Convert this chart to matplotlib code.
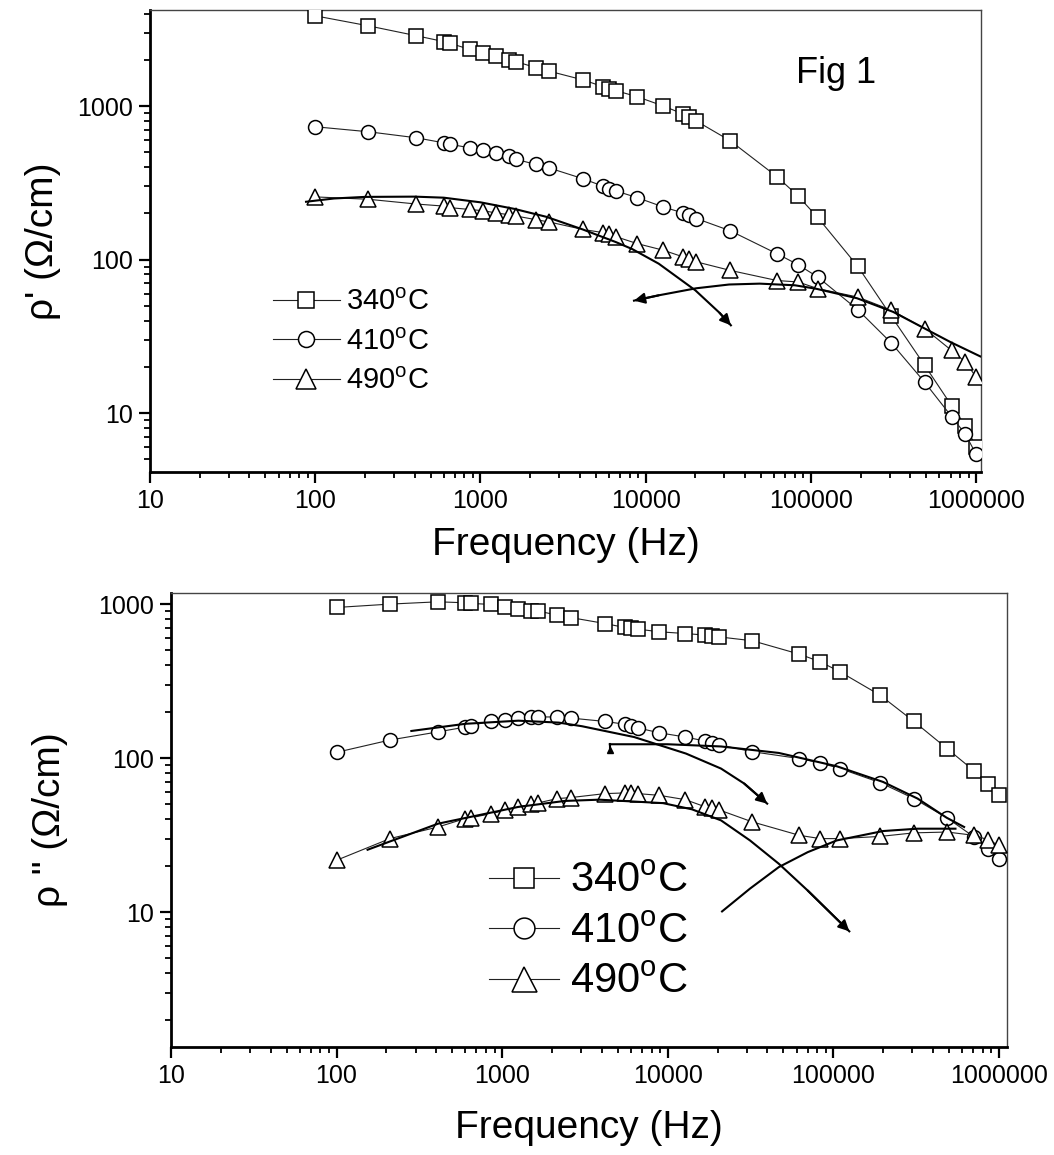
import numpy as np
import matplotlib
matplotlib.use('Agg')
import matplotlib.pyplot as plt
from matplotlib.ticker import FixedLocator, FixedFormatter, LogLocator, NullFormatter

plt.rcParams['font.family'] = ['Liberation Sans', 'DejaVu Sans']
plt.rcParams['mathtext.fontset'] = 'custom'
plt.rcParams['mathtext.rm'] = 'Liberation Sans'

# frequencies (Hz), shared by all series
freq = [100, 210, 410, 600, 650, 860, 1040, 1250, 1490, 1650, 2160, 2590, 4180,
        5500, 6000, 6600, 8900, 12800, 16900, 18400, 20300, 32500, 62500, 83500,
        110000, 192000, 307000, 488000, 710000, 860000, 1000000]

# rho' (top panel)
re_340 = [3870, 3330, 2870, 2630, 2570, 2340, 2230, 2120, 2010, 1945, 1780, 1690, 1480,
          1340, 1300, 1260, 1150, 1000, 887, 851, 798, 594, 346, 260, 188, 90.5,
          42.7, 20.5, 11.2, 8.3, 6.0]
re_410 = [733, 680, 621, 576, 564, 535, 516, 491, 472, 449, 417, 396, 336,
          301, 290, 280, 253, 220, 201, 194, 185, 154, 109, 92.7, 77, 47.2,
          28.6, 15.9, 9.5, 7.3, 5.4]
re_490 = [256, 247, 230, 223, 218, 212, 208, 201, 196, 192, 182, 176, 157,
          150, 146, 141, 127, 115, 104, 101.5, 96.6, 85, 73, 71.5, 64.7, 57,
          46.8, 35.5, 25.6, 21.5, 17.2]

# rho'' (bottom panel)
im_340 = [951, 1000, 1035, 1020, 1010, 995, 961, 928, 901, 901, 848, 818, 748,
          705, 695, 688, 661, 644, 629, 619, 613, 578, 473, 422, 363, 256,
          173, 115, 82.5, 67.6, 57.3]
im_410 = [109, 131, 148, 159, 162, 175, 176, 183, 185, 185, 185, 182, 173,
          166, 162, 157, 146, 137, 129, 126, 122, 110, 99.3, 93, 85.5, 69.3,
          54.6, 40.8, 30.7, 25.8, 22.2]
im_490 = [21.7, 30, 35.7, 40.5, 41, 43.6, 45.8, 48.2, 50.1, 51.2, 54.6, 55.4, 58.8,
          59.4, 59.4, 58.8, 57.3, 53.7, 48.2, 47.7, 46.2, 38.5, 31.5, 30, 30, 31,
          32.7, 33.1, 31.5, 29.5, 27.1]

# fitted curves
fit_top1_f = [88, 130, 200, 400, 600, 1000, 1600, 2500, 4170, 6600, 8300, 12000, 20000, 28000, 32800]
fit_top1_y = [238, 250, 256, 257, 253, 236, 214, 190, 157, 130, 117, 94, 63, 45, 37.3]
fit_top2_f = [8500, 12000, 20200, 32000, 49000, 80000, 108000, 190000, 315000, 490000, 700000, 1060000]
fit_top2_y = [54, 58.5, 65.0, 68.8, 69.7, 68, 64.5, 56, 45.6, 35.5, 29, 23.4]

fit_bot1_f = [283, 600, 1253, 2200, 3040, 6270, 12900, 21000, 29000, 39900]
fit_bot1_y = [150, 167, 175, 170, 161, 137, 107, 85.5, 68.3, 50.6]
fit_bot2_f = [4470, 10000, 21000, 46900, 105000, 200000, 323000, 484000, 617000]
fit_bot2_y = [123, 123, 119, 108, 88.5, 70, 54.6, 41, 35.7]
fit_bot3_f = [154, 410, 1253, 2390, 3860, 9370, 14000, 21000, 31400, 46900, 70100, 125000]
fit_bot3_y = [25.4, 37.5, 48.2, 52.7, 53.7, 51.0, 46.5, 39.4, 29.2, 20.6, 13.8, 7.5]
fit_bot4_f = [21300, 31400, 46900, 70100, 105000, 200000, 323000, 547000]
fit_bot4_y = [10.1, 14.2, 19.6, 24.5, 29.2, 33.6, 34.8, 34.8]

x_ticks = [10, 100, 1000, 10000, 100000, 1000000]
x_tick_labels = ['10', '100', '1000', '10000', '100000', '1000000']
y_ticks = [10, 100, 1000]
y_tick_labels = ['10', '100', '1000']
labels = ['340$^{\\rm o}$C', '410$^{\\rm o}$C', '490$^{\\rm o}$C']
markers = ['s', 'o', '^']

fig = plt.figure(figsize=(10.54, 11.55), dpi=100)
ax1 = fig.add_axes([0.1423, 0.5913, 0.7884, 0.400])
ax2 = fig.add_axes([0.1622, 0.0935, 0.7932, 0.393])


def style(ax, xlim, ylim):
    ax.set_xscale('log')
    ax.set_yscale('log')
    ax.set_xlim(*xlim)
    ax.set_ylim(*ylim)
    ax.xaxis.set_major_locator(FixedLocator(x_ticks))
    ax.xaxis.set_major_formatter(FixedFormatter(x_tick_labels))
    ax.yaxis.set_major_locator(FixedLocator(y_ticks))
    ax.yaxis.set_major_formatter(FixedFormatter(y_tick_labels))
    for a in (ax.xaxis, ax.yaxis):
        a.set_minor_locator(LogLocator(base=10, subs=np.arange(2, 10)))
        a.set_minor_formatter(NullFormatter())
    ax.tick_params(which='major', direction='out', length=8, width=1.6, labelsize=18, pad=4)
    ax.tick_params(which='minor', direction='out', length=4.5, width=1.3)
    ax.tick_params(top=False, right=False, which='both')
    for s in ('left', 'bottom'):
        ax.spines[s].set_linewidth(2)
    for s in ('top', 'right'):
        ax.spines[s].set_linewidth(1)
        ax.spines[s].set_color('#444444')


def curve(ax, f, y, head=None):
    ax.plot(f, y, color='k', lw=1.5, zorder=4)
    if head == 'end':
        ax.annotate('', xy=(f[-1], y[-1]), xytext=(f[-2], y[-2]),
                    arrowprops=dict(arrowstyle='-|>', color='k', lw=1.5,
                                    mutation_scale=16, shrinkA=0, shrinkB=0), zorder=4)
    elif head == 'start':
        ax.annotate('', xy=(f[0], y[0]), xytext=(f[1], y[1]),
                    arrowprops=dict(arrowstyle='-|>', color='k', lw=1.5,
                                    mutation_scale=16, shrinkA=0, shrinkB=0), zorder=4)


def series(ax, data):
    for ys, m, lab in zip(data, markers, labels):
        ms = 12 if m == '^' else 10
        ax.plot(freq, ys, color='#222222', lw=0.8, marker=m, ms=ms, mfc='white',
                mec='k', mew=1.1, label=lab, zorder=3)


# ---- top panel
style(ax1, (10, 1.07e6), (4.13, 4220))
series(ax1, [re_340, re_410, re_490])
curve(ax1, fit_top1_f, fit_top1_y, 'end')
curve(ax1, fit_top2_f, fit_top2_y, 'start')
ax1.text(0.826, 0.862, 'Fig 1', transform=ax1.transAxes, fontsize=26, ha='center', va='center')
ax1.set_ylabel("ρ' (Ω/cm)", fontsize=28, labelpad=12)
ax1.set_xlabel('Frequency (Hz)', fontsize=28, labelpad=10)
ax1.legend(loc='upper left', bbox_to_anchor=(0.13, 0.43), frameon=False, fontsize=21,
           markerscale=1.15, handlelength=2.3, handletextpad=0.2, labelspacing=0.4, borderpad=0)

# ---- bottom panel
style(ax2, (10, 1.12e6), (1.33, 1179))
series(ax2, [im_340, im_410, im_490])
curve(ax2, fit_bot1_f, fit_bot1_y, 'end')
curve(ax2, fit_bot2_f, fit_bot2_y)
ax2.plot([fit_bot2_f[0], fit_bot2_f[0]], [fit_bot2_y[0], fit_bot2_y[0] * 0.92], color='k', lw=1.5)
ax2.plot([fit_bot2_f[0]], [fit_bot2_y[0] * 0.92], marker='^', color='k', ms=5)
curve(ax2, fit_bot3_f, fit_bot3_y, 'end')
curve(ax2, fit_bot4_f, fit_bot4_y)
ax2.set_ylabel('ρ " (Ω/cm)', fontsize=28, labelpad=22)
ax2.set_xlabel('Frequency (Hz)', fontsize=28, labelpad=16)
ax2.legend(loc='upper left', bbox_to_anchor=(0.355, 0.455), frameon=False, fontsize=30,
           markerscale=1.5, handlelength=1.7, handletextpad=0.25, labelspacing=0.25, borderpad=0)

fig.savefig('out.png', dpi=100)
